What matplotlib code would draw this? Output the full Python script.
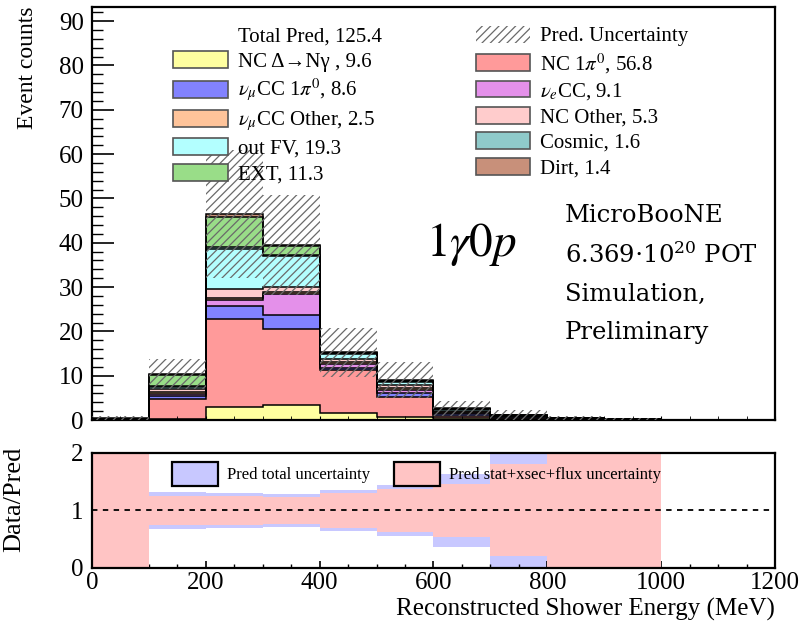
import numpy as np
import matplotlib
matplotlib.use("Agg")
import matplotlib.pyplot as plt
from matplotlib.patches import Patch
from matplotlib.ticker import MultipleLocator, FixedLocator, FuncFormatter

plt.rcParams['font.family'] = ['Liberation Serif', 'DejaVu Serif']
plt.rcParams['mathtext.fontset'] = 'stix'
plt.rcParams['hatch.linewidth'] = 0.9

# ---- binning (MeV) ----
edges = np.arange(0, 1300, 100)

# ---- predicted event counts per bin, stacked bottom -> top ----
nc_delta   = [0.0, 0.3, 2.9, 3.4, 1.6, 0.7, 0.4, 0.2, 0.1, 0.0, 0.0, 0.0]
nc_pi0     = [0.1, 4.5, 19.8, 17.2, 9.6, 4.5, 0.6, 0.3, 0.1, 0.06, 0.0, 0.0]
numu_pi0   = [0.0, 0.6, 3.0, 3.0, 0.6, 0.8, 0.3, 0.1, 0.1, 0.1, 0.0, 0.0]
nue_cc     = [0.0, 0.4, 1.4, 4.9, 0.9, 0.8, 0.3, 0.2, 0.1, 0.06, 0.0, 0.0]
numu_other = [0.1, 0.6, 0.5, 0.3, 0.3, 0.4, 0.2, 0.1, 0.0, 0.0, 0.0, 0.0]
nc_other   = [0.1, 0.5, 1.9, 1.2, 0.7, 0.6, 0.2, 0.1, 0.0, 0.0, 0.0, 0.0]
out_fv     = [0.0, 0.5, 9.2, 7.0, 1.3, 0.8, 0.5, 0.0, 0.0, 0.0, 0.0, 0.0]
cosmic     = [0.0, 0.2, 0.4, 0.3, 0.2, 0.3, 0.1, 0.1, 0.0, 0.0, 0.0, 0.0]
ext        = [0.0, 2.5, 6.8, 2.0, 0.0, 0.0, 0.0, 0.0, 0.0, 0.0, 0.0, 0.0]
dirt       = [0.1, 0.2, 0.6, 0.2, 0.1, 0.1, 0.1, 0.0, 0.0, 0.0, 0.0, 0.0]

# ---- fractional uncertainties per bin ----
frac_total = [1.5, 0.33, 0.31, 0.285, 0.36, 0.45, 0.63, 0.98, 1.5, 1.5, np.nan, np.nan]
frac_stat_xs_flux = [1.5, 0.26, 0.26, 0.23, 0.30, 0.37, 0.46, 0.80, 1.5, 1.5, np.nan, np.nan]

stack = [nc_delta, nc_pi0, numu_pi0, nue_cc, numu_other,
         nc_other, out_fv, cosmic, ext, dirt]
colors = ['#ffffa0', '#ff9a9a', '#8282ff', '#e490ea', '#ffc49a',
          '#ffcccc', '#b3ffff', '#8fcaca', '#99dd88', '#c8907a']

labels_left = ['Total Pred, 125.4', 'NC Δ→Nγ , 9.6',
               r'$\nu_{\mu}$CC 1$\pi^{0}$, 8.6', r'$\nu_{\mu}$CC Other, 2.5',
               'out FV, 19.3', 'EXT, 11.3']
labels_right = ['Pred. Uncertainty', r'NC 1$\pi^{0}$, 56.8', r'$\nu_{e}$CC, 9.1',
                'NC Other, 5.3', 'Cosmic, 1.6', 'Dirt, 1.4']

fig = plt.figure(figsize=(8.02, 6.23), dpi=100)
ax = fig.add_axes([0.1147, 0.3258, 0.8516, 0.663])
rax = fig.add_axes([0.1147, 0.0883, 0.8516, 0.1846])

# ---- stacked histogram ----
centers = 0.5 * (edges[:-1] + edges[1:])
width = np.diff(edges)
cum = np.zeros(len(centers))
tops = []
for vals, c in zip(stack, colors):
    vals = np.asarray(vals, float)
    new = cum + vals
    ax.stairs(new, edges, baseline=cum, fill=True, facecolor=c, edgecolor='none', zorder=1)
    tops.append(new)
    cum = new
for t in tops:
    ax.stairs(t, edges, baseline=0, fill=False, color='black', lw=1.1, zorder=2)
total = cum

# prediction uncertainty hatch
err = total * np.nan_to_num(np.asarray(frac_total, float))
lo = np.clip(total - err, 0, None)
hi = total + err
ax.bar(centers, hi - lo, bottom=lo, width=width, facecolor='none',
       edgecolor='#6a6a6a', hatch='////', linewidth=0, zorder=3)

ax.set_xlim(0, 1200)
ax.set_ylim(0, 93.2)
ax.yaxis.set_major_locator(MultipleLocator(10))
ax.yaxis.set_minor_locator(MultipleLocator(2))
ax.xaxis.set_major_locator(MultipleLocator(200))
ax.xaxis.set_minor_locator(MultipleLocator(50))
ax.tick_params(axis='y', which='major', direction='in', length=16, width=1.2,
               labelsize=18, pad=6)
ax.tick_params(axis='y', which='minor', direction='in', length=8, width=1.0)
ax.tick_params(axis='x', which='both', direction='in', labelbottom=False, length=3)
for s in ax.spines.values():
    s.set_linewidth(1.6)
ax.set_ylabel('Event counts', fontsize=17, loc='top')
ax.yaxis.set_label_coords(-0.079, 1.0)

# legend
h_left = [Patch(facecolor='none', edgecolor='none')] + [
    Patch(facecolor=colors[i], edgecolor='#555555', lw=1.2) for i in (0, 2, 4, 6, 8)]
h_right = [Patch(facecolor='none', edgecolor='#6a6a6a', hatch='////', lw=0)] + [
    Patch(facecolor=colors[i], edgecolor='#555555', lw=1.2) for i in (1, 3, 5, 7, 9)]
leg = ax.legend(h_left + h_right, labels_left + labels_right, ncol=2,
                loc='upper left', bbox_to_anchor=(0.104, 0.980), frameon=False,
                fontsize=15, borderpad=0, handlelength=2.6, handleheight=0.87,
                handletextpad=0.5, labelspacing=0.24, columnspacing=4.5)

ax.text(0.556, 0.424, r'$1\gamma0p$', transform=ax.transAxes, fontsize=34,
        ha='center', va='center')
for txt, yy in zip(['MicroBooNE', r'6.369$\cdot$10$^{20}$ POT', 'Simulation,', 'Preliminary'],
                   [0.494, 0.400, 0.305, 0.211]):
    ax.text(0.6925, yy, txt, transform=ax.transAxes, fontsize=17.5,
            family='DejaVu Serif', math_fontfamily='dejavuserif',
            ha='left', va='center')

# ---- ratio panel ----
ft = np.asarray(frac_total, float)
fs = np.asarray(frac_stat_xs_flux, float)
rax.bar(centers, 2 * ft, bottom=1 - ft, width=width, color='#c8c8ff', linewidth=0, zorder=1)
rax.bar(centers, 2 * fs, bottom=1 - fs, width=width, color='#ffc4c4', linewidth=0, zorder=2)
rax.axhline(1.0, color='black', ls=(0, (3, 3)), lw=1.3, zorder=3)
rax.set_xlim(0, 1200)
rax.set_ylim(0, 2)
rax.yaxis.set_major_locator(FixedLocator([0, 0.5, 1, 1.5, 2]))
rax.yaxis.set_major_formatter(FuncFormatter(lambda v, p: f'{v:.0f}' if float(v).is_integer() else ''))
rax.yaxis.set_minor_locator(MultipleLocator(0.25))
rax.xaxis.set_major_locator(MultipleLocator(200))
rax.xaxis.set_minor_locator(MultipleLocator(50))
rax.tick_params(axis='y', which='major', direction='in', length=12, width=1.2,
                labelsize=18, pad=6)
rax.tick_params(axis='y', which='minor', direction='in', length=6, width=1.0)
rax.tick_params(axis='x', which='major', direction='in', length=5, width=1.2,
                labelsize=18, pad=3)
rax.tick_params(axis='x', which='minor', direction='in', length=3, width=1.0)
for s in rax.spines.values():
    s.set_linewidth(1.6)
rax.set_ylabel('Data/Pred', fontsize=19)
rax.yaxis.set_label_coords(-0.098, 0.6)
rax.set_xlabel('Reconstructed Shower Energy (MeV)', fontsize=18, loc='right')
rax.xaxis.set_label_coords(1.0, -0.262)

rh = [Patch(facecolor='#c8c8ff', edgecolor='black', lw=1.6),
      Patch(facecolor='#ffc4c4', edgecolor='black', lw=1.6)]
rax.legend(rh, ['Pred total uncertainty', 'Pred stat+xsec+flux uncertainty'], ncol=2,
           loc='center left', bbox_to_anchor=(0.105, 0.817), frameon=False,
           fontsize=12, borderpad=0, handlelength=2.75, handleheight=1.9,
           handletextpad=0.55, columnspacing=1.45)

fig.savefig('out.png', dpi=100)
